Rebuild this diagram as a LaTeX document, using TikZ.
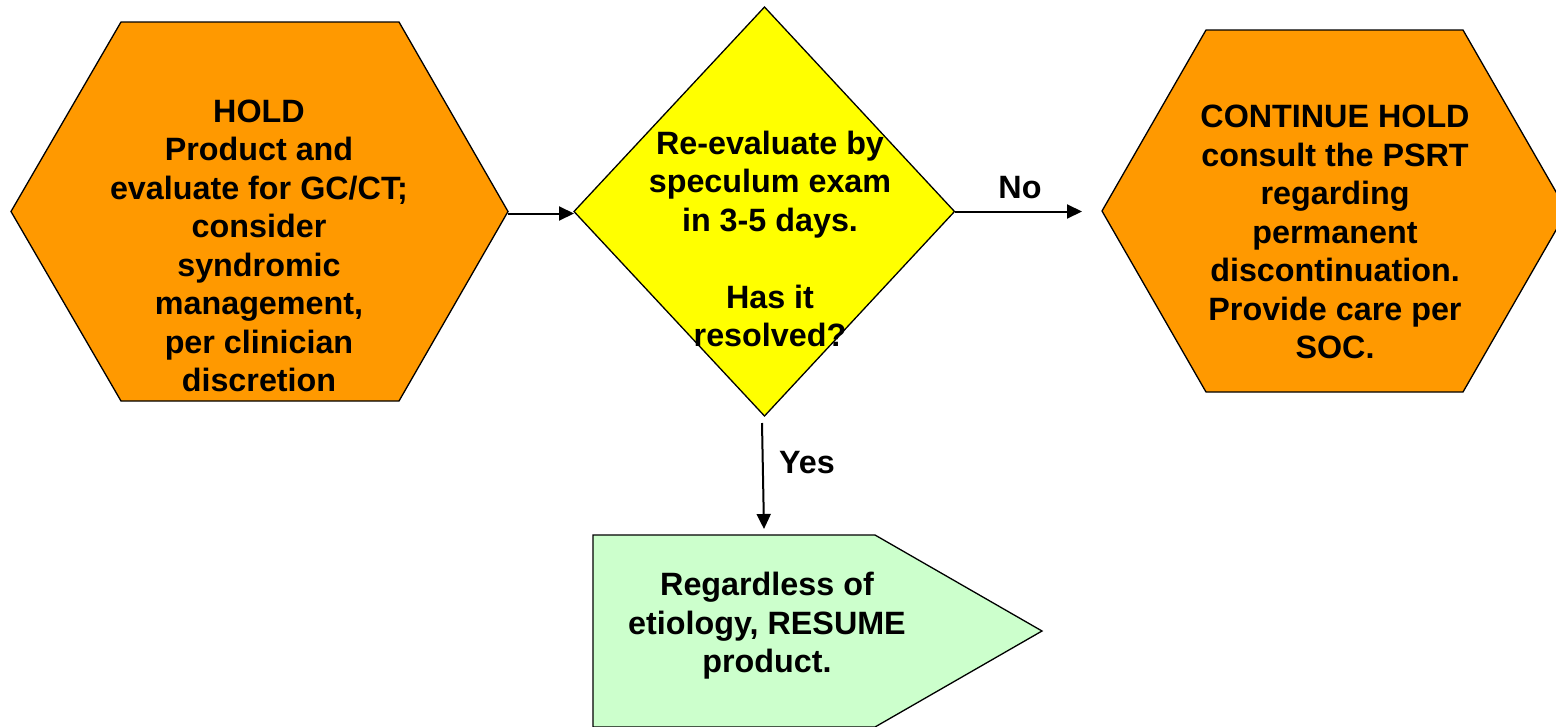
\documentclass[tikz,border=0pt]{standalone}
\usepackage{fontspec}
\setmainfont{Liberation Sans}
\usetikzlibrary{arrows.meta}
\definecolor{holdorange}{HTML}{FF9900}
\definecolor{askyellow}{HTML}{FFFF00}
\definecolor{resumegreen}{HTML}{CCFFCC}
\begin{document}
\begin{tikzpicture}[x=1pt,y=-1pt,
  shapeline/.style={draw=black,line width=1.3pt,line join=miter},
  boxtext/.style={align=center,inner sep=0pt,
    font=\fontsize{32.3}{38.5}\selectfont\bfseries},
  labeltext/.style={inner sep=0pt,font=\fontsize{32.3}{38.5}\selectfont\bfseries},
  flow/.style={line width=2pt,-{Triangle[length=15pt,width=14pt]}}]
\useasboundingbox (0,0) rectangle (1556,726);

% first hold step (hexagon)
\draw[shapeline,fill=holdorange]
  (121,22) -- (399,22) -- (508,211.5) coordinate (hold-e)
  -- (399,401) -- (121,401) -- (11,211.5) -- cycle;
\node[boxtext] (hold) at (259,246)
  {HOLD\\Product and\\evaluate for GC/CT;\\consider\\syndromic\\management,\\per clinician\\discretion};

% decision (diamond)
\draw[shapeline,fill=askyellow]
  (764.5,7) -- (954.5,211.5) coordinate (ask-e)
  -- (764.5,416) coordinate (ask-s)
  -- (574,211.5) coordinate (ask-w) -- cycle;
\node[boxtext] (ask) at (770,239)
  {Re-evaluate by\\speculum exam\\in 3-5 days.\\[38.5pt]Has it\\resolved?};

% continued hold (hexagon)
\draw[shapeline,fill=holdorange]
  (1206,30) -- (1463,30) -- (1567,211) -- (1463,392) -- (1206,392)
  -- (1102,211) coordinate (cont-w) -- cycle;
\node[boxtext] (cont) at (1335,232)
  {CONTINUE HOLD\\consult the PSRT\\regarding\\permanent\\discontinuation.\\Provide care per\\SOC.};

% resume step (pentagon arrow)
\draw[shapeline,fill=resumegreen]
  (593,535) -- (875,535) coordinate (res-top) -- (1042,631) -- (875,727)
  -- (593,727) -- cycle;
\coordinate (res-n) at (764,529);
\node[boxtext] (res) at (767,626)
  {Regardless of\\etiology, RESUME\\product.};

% connectors
\coordinate (ask-in) at (574,213.5);
\draw[flow] (hold-e |- ask-in) -- (ask-in);
\coordinate (no-end) at (1082,211.5);
\draw[flow] (ask-e) -- (no-end);
\coordinate (yes-start) at (762,423);
\draw[flow] (yes-start) -- (res-n);

\node[labeltext] (no) at (1020,188) {No};
\node[labeltext] (yes) at (807,463) {Yes};
\end{tikzpicture}
\end{document}
